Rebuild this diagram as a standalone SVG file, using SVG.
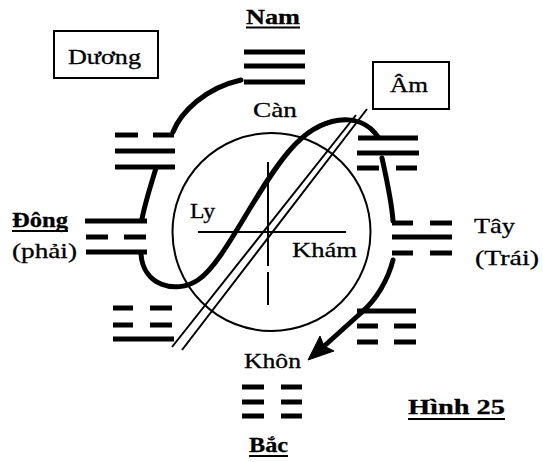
<svg xmlns="http://www.w3.org/2000/svg" width="543" height="462" viewBox="0 0 543 462">
<style>
.bar{stroke:#000;stroke-width:5;fill:none}
.thin{stroke:#000;stroke-width:2;fill:none}
.brush{stroke:#000;stroke-width:5;fill:none;stroke-linecap:round;stroke-linejoin:round}
.t{font-family:"Liberation Serif","Times New Roman",serif;font-size:22px;fill:#000;stroke:#000;stroke-width:0.3}
.h{font-weight:bold}
.ul{stroke:#000;stroke-width:1.8}
</style>
<rect width="543" height="462" fill="#fff"/>

<g id="can-trigram">
<path class="bar" d="M244,52H305M244,66H305M244,82H305"/>
</g>
<g id="ton-trigram">
<path class="bar" d="M115,135H138M153,135H174M115,151H175M115,167H175"/>
</g>
<g id="dong-trigram">
<path class="bar" d="M85,221H147M86,237H108M124,237H146M86,252H147"/>
</g>
<g id="chan-trigram">
<path class="bar" d="M113,308H133M150,308H172M113,325H133M150,325H172M113,339H174"/>
</g>
<g id="khon-trigram">
<path class="bar" d="M242,387H264M281,387H302M242,402H264M281,402H302M242,416H264M281,416H302"/>
</g>
<g id="can2-trigram">
<path class="bar" d="M357,311H416M357,326H378M394,326H416M357,342H378M394,342H416"/>
</g>
<g id="tay-trigram">
<path class="bar" d="M392,223H413M430,223H452M392,237H452M392,253H413M430,253H452"/>
</g>
<g id="doai-trigram">
<path class="bar" d="M358,138H418M357,153H419M357,168H379M396,168H417"/>
</g>

<g id="circle">
<circle class="thin" cx="271.5" cy="232" r="99"/>
<path class="thin" d="M198,232H346M268,162V266M268,272V305"/>
</g>

<g id="duong-box">
<rect class="thin" x="54" y="31" width="104" height="47"/>
<text class="t" x="104.5" y="64" text-anchor="middle" textLength="73" lengthAdjust="spacingAndGlyphs">Dương</text>
</g>
<g id="am-box">
<rect class="thin" x="373" y="62" width="76" height="47"/>
<text class="t" x="409" y="92" text-anchor="middle" textLength="38" lengthAdjust="spacingAndGlyphs">Âm</text>
</g>

<g id="connectors">
<path class="brush" stroke-width="6" d="M173,132C181,112 205,88 241,80"/>
<path class="brush" d="M156,168C150,188 145,203 142,219"/>
<path class="brush" d="M141,254C143,285 175,295 198,280C225,262 255,190 290,150C320,115 360,110 378,137"/>
<path class="brush" d="M382,158C388,185 392,205 393,221"/>
<path class="brush" d="M393,260C388,280 376,300 362,312"/>
<path class="brush" stroke-width="3.5" d="M362,312L322,348"/>
<path d="M308,360L320,336L324,346L334,351Z" fill="#000" stroke="#000" stroke-width="1"/>
<path class="thin" d="M172,347L356,115M182,350L367,109"/>
</g>

<g id="labels">
<text class="t h" x="246" y="24" textLength="54" lengthAdjust="spacingAndGlyphs">Nam</text>
<line class="ul" x1="246" y1="27.5" x2="300" y2="27.5"/>
<text class="t" x="253" y="117" textLength="44" lengthAdjust="spacingAndGlyphs">Càn</text>
<text class="t h" x="12" y="227" textLength="56" lengthAdjust="spacingAndGlyphs">Đông</text>
<line class="ul" x1="12" y1="231" x2="68" y2="231"/>
<text class="t" x="12" y="258" font-size="21" textLength="65" lengthAdjust="spacingAndGlyphs">(phải)</text>
<text class="t" x="474" y="233" textLength="41" lengthAdjust="spacingAndGlyphs">Tây</text>
<text class="t" x="475" y="265" font-size="21" textLength="64" lengthAdjust="spacingAndGlyphs">(Trái)</text>
<text class="t" x="190" y="218" textLength="25" lengthAdjust="spacingAndGlyphs">Ly</text>
<text class="t" x="292" y="257" textLength="65" lengthAdjust="spacingAndGlyphs">Khám</text>
<text class="t" x="244" y="368" textLength="57" lengthAdjust="spacingAndGlyphs">Khôn</text>
<text class="t h" x="249" y="452" textLength="39" lengthAdjust="spacingAndGlyphs">Bắc</text>
<line class="ul" x1="249" y1="456" x2="288" y2="456"/>
<text class="t h" x="408" y="414" textLength="97" lengthAdjust="spacingAndGlyphs">Hình 25</text>
<line class="ul" x1="408" y1="419" x2="505" y2="419"/>
</g>
</svg>
